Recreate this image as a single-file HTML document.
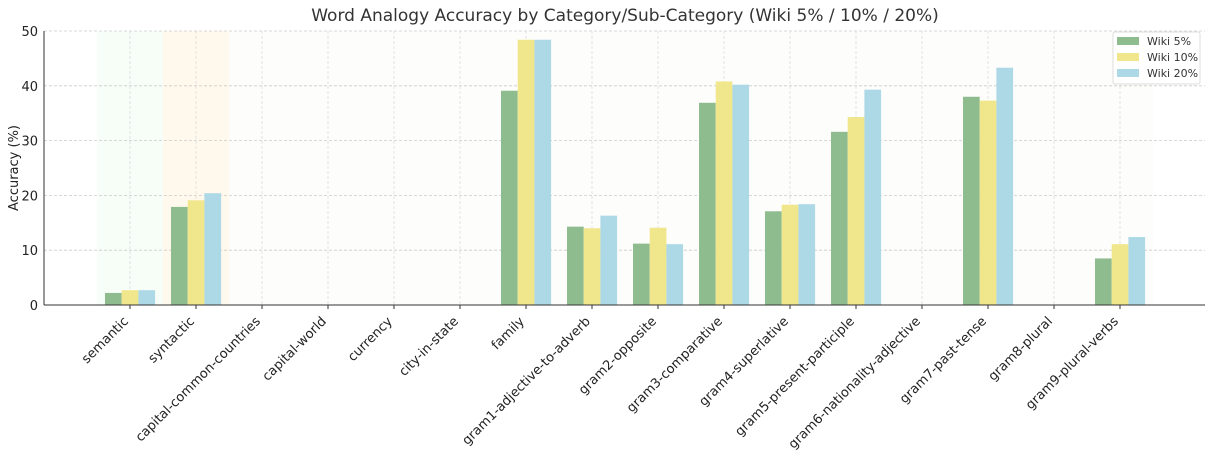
<!DOCTYPE html>
<html><head><meta charset="utf-8"><style>
body{margin:0;background:#fff;font-family:"Liberation Sans","DejaVu Sans",sans-serif;}
</style></head><body>
<svg width="1213" height="450" id="chart" font-family="DejaVu Sans, Liberation Sans, sans-serif">
<text x="625" y="21" text-anchor="middle" font-size="17" fill="#333">Word Analogy Accuracy by Category/Sub-Category (Wiki 5% / 10% / 20%)</text>
<text transform="translate(18,168) rotate(-90)" text-anchor="middle" font-size="13" fill="#222">Accuracy (%)</text>
<g id="bg"></g><g id="grid"></g><g id="bars"></g><g id="axes"></g>
<g>
<rect x="1113" y="32" width="87" height="52" fill="#fff" fill-opacity="0.85" stroke="#ddd" rx="2"/>
<rect x="1117" y="37" width="22" height="8" fill="#8fbc8f"/><text x="1147" y="45" font-size="11" fill="#333">Wiki 5%</text>
<rect x="1117" y="53" width="22" height="8" fill="#f0e68c"/><text x="1147" y="61" font-size="11" fill="#333">Wiki 10%</text>
<rect x="1117" y="69" width="22" height="8" fill="#add8e6"/><text x="1147" y="77" font-size="11" fill="#333">Wiki 20%</text>
</g>
</svg>
<script>
const categories=["semantic","syntactic","capital-common-countries","capital-world","currency","city-in-state","family","gram1-adjective-to-adverb","gram2-opposite","gram3-comparative","gram4-superlative","gram5-present-participle","gram6-nationality-adjective","gram7-past-tense","gram8-plural","gram9-plural-verbs"];
const wiki5=[2.2,17.9,0,0,0,0,39.1,14.3,11.2,36.9,17.1,31.6,0,38.0,0,8.5];
const wiki10=[2.7,19.1,0,0,0,0,48.4,14.0,14.1,40.8,18.3,34.3,0,37.3,0,11.1];
const wiki20=[2.7,20.4,0,0,0,0,48.4,16.3,11.1,40.2,18.4,39.3,0,43.3,0,12.4];
const yTicks=[0,10,20,30,40,50];
const NS="http://www.w3.org/2000/svg";
const L=44,R=1205,T=31,B=305;
const x=i=>130+66*i;
const y=v=>B-(v/50)*(B-T);
function mk(tag,attrs,parent){const e=document.createElementNS(NS,tag);for(const k in attrs)e.setAttribute(k,attrs[k]);document.getElementById(parent).appendChild(e);return e;}
let e;
e=mk("rect",{x:x(0)-33,y:T,width:66,height:B-T,fill:"#f3fdf3",opacity:0.7},"bg");


e=mk("rect",{x:x(1)-33,y:T,width:66,height:B-T,fill:"#fff8e8",opacity:0.8},"bg");


e=mk("rect",{x:x(2)-33,y:T,width:x(15)+33-(x(2)-33),height:B-T,fill:"#fcfdfa",opacity:0.8},"bg");


yTicks.forEach(t=>{
 e=mk("line",{x1:L,x2:R,y1:y(t),y2:y(t),stroke:"#ccc","stroke-dasharray":"3,2","stroke-width":0.8},"grid");
 
 
 e=mk("text",{x:L-6,y:y(t)+5,"text-anchor":"end","font-size":13,fill:"#222"},"axes");
 e.textContent=t;
 
 
});
categories.forEach((c,i)=>{
 e=mk("line",{x1:x(i),x2:x(i),y1:T,y2:B,stroke:"#ddd","stroke-dasharray":"3,2","stroke-width":0.8},"grid");
 
 
 const series=[[wiki5,"#8fbc8f"],[wiki10,"#f0e68c"],[wiki20,"#add8e6"]];
 series.forEach((s,j)=>{
  const v=s[0][i];
  e=mk("rect",{x:x(i)-25+j*16.7,y:y(v),width:16.7,height:B-y(v),fill:s[1]},"bars");
  
  
 });
 e=mk("line",{x1:x(i),x2:x(i),y1:B,y2:B+4,stroke:"#333"},"axes");
 
 
 e=mk("text",{x:0,y:0,"text-anchor":"end","font-size":13,fill:"#222",transform:`translate(${x(i)-1},${B+17}) rotate(-45)`},"axes");
 e.textContent=c;
 
 
});
e=mk("line",{x1:L,x2:L,y1:T,y2:B,stroke:"#333","stroke-width":1},"axes");


e=mk("line",{x1:L,x2:R,y1:B,y2:B,stroke:"#333","stroke-width":1},"axes");


</script>
</body></html>
